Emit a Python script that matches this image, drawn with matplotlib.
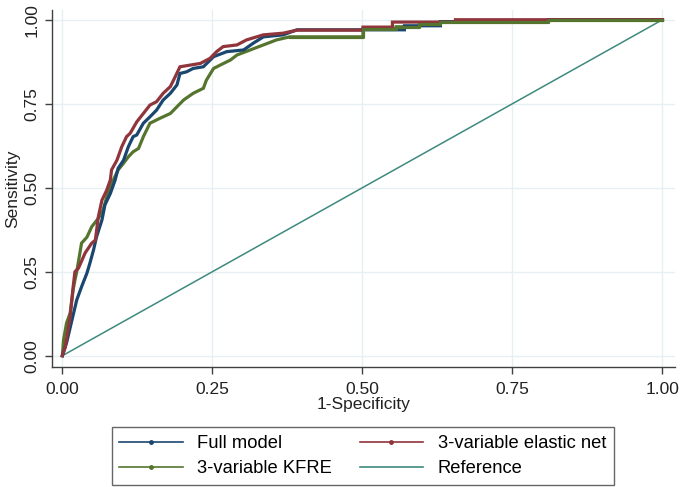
import matplotlib
matplotlib.use("Agg")
import matplotlib.pyplot as plt
from matplotlib.lines import Line2D

plt.rcParams['font.family'] = ['Liberation Sans', 'DejaVu Sans']

# ROC curves (1-specificity, sensitivity)
full_x = [0, 0.007, 0.016, 0.024, 0.032, 0.041, 0.046, 0.052, 0.057, 0.066, 0.071, 0.080,
          0.088, 0.093, 0.102, 0.110, 0.118, 0.124, 0.135, 0.146, 0.157, 0.168, 0.180, 0.191,
          0.196, 0.207, 0.218, 0.235, 0.252, 0.274, 0.302, 0.318, 0.335, 0.368, 0.391, 0.570,
          0.570, 0.630, 0.630, 0.810, 0.810, 1.0]
full_y = [0, 0.038, 0.106, 0.166, 0.205, 0.246, 0.276, 0.315, 0.354, 0.404, 0.449, 0.483,
          0.523, 0.558, 0.582, 0.622, 0.652, 0.657, 0.692, 0.711, 0.731, 0.761, 0.781, 0.806,
          0.840, 0.845, 0.855, 0.860, 0.890, 0.905, 0.910, 0.930, 0.949, 0.955, 0.970, 0.970,
          0.982, 0.982, 0.994, 0.994, 1.0, 1.0]

enet_x = [0, 0.005, 0.013, 0.018, 0.021, 0.027, 0.038, 0.049, 0.055, 0.060, 0.066, 0.074,
          0.080, 0.082, 0.091, 0.099, 0.107, 0.113, 0.124, 0.135, 0.146, 0.157, 0.168, 0.180,
          0.188, 0.196, 0.213, 0.230, 0.246, 0.257, 0.268, 0.291, 0.307, 0.335, 0.368, 0.391,
          0.501, 0.501, 0.550, 0.550, 0.655, 0.655, 1.0]
enet_y = [0, 0.027, 0.116, 0.205, 0.250, 0.261, 0.306, 0.335, 0.344, 0.414, 0.463, 0.493,
          0.523, 0.553, 0.582, 0.622, 0.652, 0.662, 0.696, 0.721, 0.746, 0.756, 0.781, 0.801,
          0.830, 0.860, 0.865, 0.870, 0.885, 0.905, 0.920, 0.925, 0.940, 0.955, 0.960, 0.969,
          0.969, 0.978, 0.978, 0.993, 0.993, 1.0, 1.0]

kfre_x = [0, 0.002, 0.007, 0.013, 0.018, 0.021, 0.024, 0.032, 0.041, 0.049, 0.060, 0.068,
          0.074, 0.080, 0.085, 0.093, 0.102, 0.110, 0.118, 0.127, 0.135, 0.146, 0.163, 0.180,
          0.191, 0.202, 0.218, 0.235, 0.240, 0.252, 0.263, 0.280, 0.291, 0.313, 0.335, 0.357,
          0.379, 0.501, 0.501, 0.556, 0.556, 0.595, 0.595, 0.630, 0.630, 0.810, 0.810, 1.0]
kfre_y = [0, 0.047, 0.097, 0.127, 0.196, 0.225, 0.250, 0.335, 0.353, 0.384, 0.409, 0.434,
          0.473, 0.503, 0.523, 0.553, 0.573, 0.592, 0.607, 0.617, 0.652, 0.692, 0.707, 0.721,
          0.741, 0.761, 0.781, 0.796, 0.820, 0.855, 0.865, 0.880, 0.895, 0.910, 0.925, 0.940,
          0.949, 0.949, 0.973, 0.973, 0.979, 0.979, 0.988, 0.988, 0.994, 0.994, 1.0, 1.0]

ref_x = [0, 1]
ref_y = [0, 1]

ticks = [0, 0.25, 0.5, 0.75, 1.0]
tick_labels = ["0.00", "0.25", "0.50", "0.75", "1.00"]
labels = ["Full model", "3-variable elastic net", "3-variable KFRE", "Reference"]

c_full = '#1a476f'
c_enet = '#90353b'
c_kfre = '#55752f'
c_ref = '#3d8a7d'

fig = plt.figure(figsize=(6.85, 4.87), dpi=100)
ax = fig.add_axes([0.0755, 0.247, 0.910, 0.7325])

for t in ticks:
    ax.axvline(t, color='#e6eff1', lw=1.0, zorder=0)
    ax.axhline(t, color='#e6eff1', lw=1.0, zorder=0)

ax.plot(ref_x, ref_y, color=c_ref, lw=1.1, zorder=2)
ax.plot(kfre_x, kfre_y, color=c_kfre, lw=2.3, zorder=3, solid_joinstyle='miter')
ax.plot(full_x, full_y, color=c_full, lw=2.3, zorder=4, solid_joinstyle='miter')
ax.plot(enet_x, enet_y, color=c_enet, lw=2.3, zorder=5, solid_joinstyle='miter')
# Redraw green tail on top like the reference
ax.plot(kfre_x[36:], kfre_y[36:], color=c_kfre, lw=2.3, zorder=6)

ax.set_xlim(-0.0177, 1.021)
ax.set_ylim(-0.0327, 1.029)
ax.set_xticks(ticks)
ax.set_xticklabels(tick_labels)
ax.set_yticks(ticks)
ax.set_yticklabels(tick_labels, rotation=90, va='center')
for s in ['top', 'right']:
    ax.spines[s].set_visible(False)
for s in ['left', 'bottom']:
    ax.spines[s].set_color('#404040')
    ax.spines[s].set_linewidth(1.0)
ax.tick_params(axis='both', direction='out', length=5, width=1, color='#404040',
               labelsize=12.5, labelcolor='#222222')
ax.tick_params(axis='x', pad=6)
ax.tick_params(axis='y', pad=4)
ax.set_xlabel("1-Specificity", fontsize=12.5, color='#222222', labelpad=0)
ax.set_ylabel("Sensitivity", fontsize=12.5, color='#222222', labelpad=3)

handles = [
    Line2D([0], [0], color=c_full, lw=1.2, marker='o', markersize=2.5),
    Line2D([0], [0], color=c_enet, lw=1.2, marker='o', markersize=2.5),
    Line2D([0], [0], color=c_kfre, lw=1.2, marker='o', markersize=2.5),
    Line2D([0], [0], color=c_ref, lw=1.2),
]
order = [0, 2, 1, 3]
leg = fig.legend([handles[i] for i in order], [labels[i] for i in order], ncol=2,
                 loc='lower left', bbox_to_anchor=(111.7 / 685, 2 / 487, 502 / 685, 58 / 487),
                 mode='expand', fontsize=13.2, frameon=True, fancybox=False,
                 handlelength=3.45, handletextpad=0.8, numpoints=1, borderaxespad=0,
                 labelspacing=0.45, borderpad=0.42, columnspacing=1.5)
leg.get_frame().set_edgecolor('#404040')
leg.get_frame().set_linewidth(1.0)

fig.savefig("out.png", dpi=100, facecolor='white')
